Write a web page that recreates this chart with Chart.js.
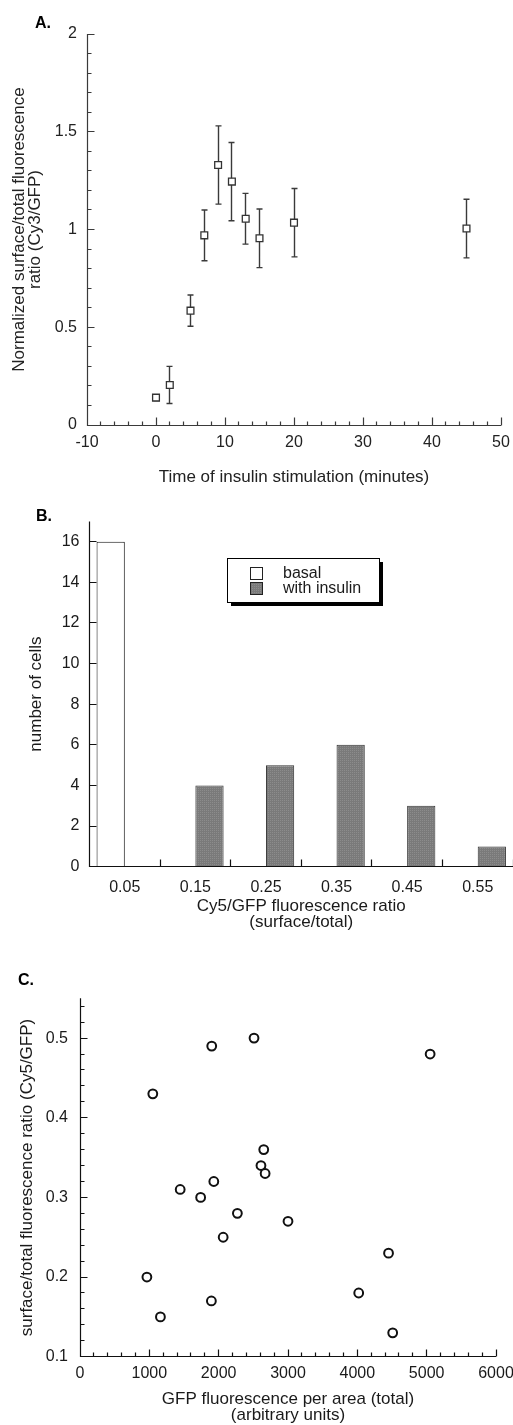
<!DOCTYPE html>
<html>
<head>
<meta charset="utf-8">
<script src="https://cdn.jsdelivr.net/npm/chart.js@4.4.0/dist/chart.umd.min.js"></script>
<style>
  html, body { margin: 0; padding: 0; background: #fff; }
  body { width: 513px; height: 1425px; position: relative; overflow: hidden; }
  canvas { position: absolute; left: 0; }
</style>
</head>
<body>
<canvas id="chartA" width="513" height="490" style="top:0px"></canvas>
<canvas id="chartB" width="513" height="450" style="top:490px"></canvas>
<canvas id="chartC" width="513" height="485" style="top:940px"></canvas>
<script>
// Painel A - curso temporal
const timeMin = [0, 2, 5, 7, 9, 11, 13, 15, 20, 45]
const ratioA = [0.14, 0.205, 0.585, 0.97, 1.33, 1.245, 1.055, 0.955, 1.035, 1.005]
const errA = [0.015, 0.095, 0.08, 0.13, 0.2, 0.2, 0.13, 0.15, 0.175, 0.15]
const xTicksA = [-10, 0, 10, 20, 30, 40, 50]
const yTicksA = [0, 0.5, 1, 1.5, 2]

// Painel B - histograma
const binLabels = ['0.05', '0.15', '0.25', '0.35', '0.45', '0.55']
const basalCells = [16, null, null, null, null, null]
const insulinCells = [null, 4, 5, 6, 3, 1]
const yTicksB = [0, 2, 4, 6, 8, 10, 12, 14, 16]

// Painel C - dispersão
const gfpTotal = [1050, 1900, 2510, 5050, 2650, 2610, 2670, 1930, 1445, 1740, 2270, 3000, 2065, 4450, 965, 4020, 1895, 1160, 4510]
const surfRatio = [0.43, 0.49, 0.50, 0.48, 0.36, 0.34, 0.33, 0.32, 0.31, 0.30, 0.28, 0.27, 0.25, 0.23, 0.20, 0.18, 0.17, 0.15, 0.13]
const xTicksC = [0, 1000, 2000, 3000, 4000, 5000, 6000]
const yTicksC = [0.1, 0.2, 0.3, 0.4, 0.5]

const FONT = '"Liberation Sans", Arial, Helvetica, sans-serif'
Chart.defaults.font.family = FONT
Chart.defaults.font.size = 16
Chart.defaults.color = '#1a1a1a'
Chart.defaults.animation = false
Chart.defaults.events = []
Chart.defaults.plugins.legend.display = false
Chart.defaults.plugins.tooltip.enabled = false

function minorTicks(min, max, step, majors) {
  const out = []
  const n = Math.round((max - min) / step)
  for (let i = 0; i <= n; i++) {
    const v = min + i * step
    if (!majors.some(m => Math.abs(m - v) < step / 10)) out.push(v)
  }
  return out
}

function setTicks(list) {
  return s => { s.ticks = list.map(v => ({ value: v })) }
}

const crisp = v => Math.round(v - 0.5) + 0.5

// eixos com marcas para dentro
const axisPlugin = {
  id: 'axisMarks',
  afterDraw(chart, args, o) {
    const ctx = chart.ctx
    const { left, right, top, bottom } = chart.chartArea
    const xs = chart.scales.x, ys = chart.scales.y
    const L = crisp(left), B = crisp(bottom)
    ctx.save()
    ctx.strokeStyle = o.color
    ctx.lineWidth = o.width
    ctx.beginPath()
    ctx.moveTo(L, top)
    ctx.lineTo(L, B)
    ctx.lineTo(right, B)
    const mark = (list, len, horiz) => list.forEach(v => {
      if (horiz) {
        const p = crisp(xs.getPixelForValue(v))
        ctx.moveTo(p, B); ctx.lineTo(p, B - len)
      } else {
        const p = crisp(ys.getPixelForValue(v))
        ctx.moveTo(L, p); ctx.lineTo(L + len, p)
      }
    })
    mark(o.xMajor, o.xMajorLen, true)
    mark(o.xMinor || [], o.xMinorLen, true)
    mark(o.yMajor, o.yMajorLen, false)
    mark(o.yMinor || [], o.yMinorLen, false)
    ctx.stroke()
    ctx.fillStyle = '#000'
    ctx.font = 'bold 16px ' + FONT
    ctx.textBaseline = 'alphabetic'
    ctx.fillText(o.letter, o.letterX, o.letterY)
    ctx.restore()
  }
}

const errorBars = {
  id: 'errorBars',
  beforeDatasetsDraw(chart, args, o) {
    if (!o.errors) return
    const ctx = chart.ctx
    const xs = chart.scales.x, ys = chart.scales.y
    ctx.save()
    ctx.strokeStyle = '#3a3a3a'
    ctx.lineWidth = 1.4
    ctx.beginPath()
    o.errors.forEach((e, i) => {
      const x = crisp(xs.getPixelForValue(timeMin[i]))
      const y1 = ys.getPixelForValue(ratioA[i] + e)
      const y2 = ys.getPixelForValue(ratioA[i] - e)
      ctx.moveTo(x, y1); ctx.lineTo(x, y2)
      ctx.moveTo(x - 3, y1); ctx.lineTo(x + 3, y1)
      ctx.moveTo(x - 3, y2); ctx.lineTo(x + 3, y2)
    })
    ctx.stroke()
    ctx.restore()
  }
}

function stipple() {
  const c = document.createElement('canvas')
  c.width = 2; c.height = 2
  const g = c.getContext('2d')
  g.fillStyle = '#7a7a7a'; g.fillRect(0, 0, 2, 2)
  g.fillStyle = '#8c8c8c'; g.fillRect(0, 0, 1, 1)
  return g.createPattern(c, 'repeat')
}
const grayFill = stipple()

const boxLegend = {
  id: 'boxLegend',
  afterDraw(chart, args, o) {
    if (!o.display) return
    const ctx = chart.ctx
    const { x, y, w, h } = o
    ctx.save()
    ctx.fillStyle = '#000'
    ctx.fillRect(x + 4, y + 4, w, h)
    ctx.fillStyle = '#fff'
    ctx.fillRect(x, y, w, h)
    ctx.strokeStyle = '#000'
    ctx.lineWidth = 1
    ctx.strokeRect(x + 0.5, y + 0.5, w, h)
    ctx.font = '16px ' + FONT
    ctx.textBaseline = 'alphabetic'
    chart.data.datasets.forEach((ds, i) => {
      const sy = y + 9 + i * 15
      ctx.fillStyle = ds.backgroundColor
      ctx.fillRect(x + 23, sy, 13, 13)
      ctx.strokeStyle = '#222'
      ctx.strokeRect(x + 23.5, sy + 0.5, 12, 12)
      ctx.fillStyle = '#1a1a1a'
      ctx.fillText(ds.label, x + 56, sy + 10.5)
    })
    ctx.restore()
  }
}

Chart.register(axisPlugin, errorBars, boxLegend)

// Gráfico A
new Chart(document.getElementById('chartA'), {
  type: 'scatter',
  data: {
    datasets: [{
      data: timeMin.map((t, i) => ({ x: t, y: ratioA[i] })),
      pointStyle: 'rect',
      pointRadius: 4.8,
      borderWidth: 1.3,
      borderColor: '#333',
      backgroundColor: '#fff',
    }]
  },
  options: {
    responsive: false,
    layout: { padding: { top: 34, right: 12, left: 0, bottom: 0 } },
    plugins: {
      errorBars: { errors: errA },
      axisMarks: {
        color: '#3a3a3a', width: 1.2, letter: 'A.', letterX: 35, letterY: 28,
        xMajor: xTicksA, xMinor: minorTicks(-10, 50, 2, xTicksA), xMajorLen: 8, xMinorLen: 4,
        yMajor: yTicksA, yMinor: minorTicks(0, 2, 0.1, yTicksA), yMajorLen: 7, yMinorLen: 4,
      }
    },
    scales: {
      x: {
        type: 'linear', min: -10, max: 50,
        afterBuildTicks: setTicks(xTicksA),
        ticks: { padding: 8, color: '#222', callback: v => String(v) },
        grid: { display: false, drawTicks: false },
        border: { display: false },
        title: { display: true, text: 'Time of insulin stimulation (minutes)', color: '#222',
          font: { size: 17, lineHeight: 16 / 17 }, padding: { top: 0, bottom: 5 } },
        afterFit: s => { s.height = 65; s.paddingLeft = 0; s.paddingRight = 0 }
      },
      y: {
        min: 0, max: 2,
        afterBuildTicks: setTicks(yTicksA),
        ticks: { padding: 10, color: '#222', callback: v => String(v) },
        grid: { display: false, drawTicks: false },
        border: { display: false },
        title: { display: true, text: ['Normalized surface/total fluorescence', 'ratio (Cy3/GFP)'], color: '#222',
          font: { size: 17, lineHeight: 16 / 17 }, padding: { top: 11, bottom: 0 } },
        afterFit: s => { s.width = 87; s.paddingTop = 0; s.paddingBottom = 0 }
      }
    }
  }
})

// Gráfico B
new Chart(document.getElementById('chartB'), {
  type: 'bar',
  data: {
    labels: binLabels,
    datasets: [{
      label: 'basal',
      data: basalCells,
      backgroundColor: '#fff',
      borderColor: '#111',
      borderWidth: 1,
    }, {
      label: 'with insulin',
      data: insulinCells,
      backgroundColor: grayFill,
      borderColor: '#333',
      borderWidth: 1,
    }]
  },
  options: {
    responsive: false,
    layout: { padding: { top: 31.4, right: 0, left: 0, bottom: 0 } },
    datasets: { bar: { barPercentage: 1, categoryPercentage: 0.8 } },
    plugins: {
      boxLegend: { display: true, x: 227, y: 68, w: 152, h: 44 },
      axisMarks: {
        color: '#111', width: 1.2, letter: 'B.', letterX: 36, letterY: 31,
        xMajor: [0.5, 1.5, 2.5, 3.5, 4.5, 5.5], xMajorLen: 7,
        yMajor: yTicksB, yMajorLen: 7,
      }
    },
    scales: {
      x: {
        ticks: { padding: 11 },
        grid: { display: false, drawTicks: false },
        border: { display: false },
        title: { display: true, text: ['Cy5/GFP fluorescence ratio', '(surface/total)'],
          font: { size: 17, lineHeight: 16 / 17 }, padding: { top: 0, bottom: 9.6 } },
        afterFit: s => { s.height = 73.3; s.paddingLeft = 0; s.paddingRight = 0 }
      },
      y: {
        min: 0, max: 17,
        afterBuildTicks: setTicks(yTicksB),
        ticks: { padding: 10 },
        grid: { display: false, drawTicks: false },
        border: { display: false },
        title: { display: true, text: 'number of cells',
          font: { size: 17, lineHeight: 16 / 17 }, padding: { top: 28.5, bottom: 0 } },
        afterFit: s => { s.width = 89.5; s.paddingTop = 0; s.paddingBottom = 0 }
      }
    }
  }
})

// Gráfico C
new Chart(document.getElementById('chartC'), {
  type: 'scatter',
  data: {
    datasets: [{
      data: gfpTotal.map((g, i) => ({ x: g, y: surfRatio[i] })),
      pointStyle: 'circle',
      pointRadius: 4.4,
      borderWidth: 2,
      borderColor: '#111',
      backgroundColor: '#fff',
    }]
  },
  options: {
    responsive: false,
    layout: { padding: { top: 58.3, right: 17, left: 0, bottom: 0 } },
    plugins: {
      axisMarks: {
        color: '#111', width: 1.2, letter: 'C.', letterX: 18, letterY: 45,
        xMajor: xTicksC, xMinor: minorTicks(0, 6000, 200, xTicksC), xMajorLen: 7, xMinorLen: 4,
        yMajor: yTicksC, yMinor: minorTicks(0.1, 0.54, 0.02, yTicksC), yMajorLen: 7, yMinorLen: 4,
      }
    },
    scales: {
      x: {
        type: 'linear', min: 0, max: 6000,
        afterBuildTicks: setTicks(xTicksC),
        ticks: { padding: 7.5, callback: v => String(v) },
        grid: { display: false, drawTicks: false },
        border: { display: false },
        title: { display: true, text: ['GFP fluorescence per area (total)', '(arbitrary units)'],
          font: { size: 17, lineHeight: 16 / 17 }, padding: { top: 0, bottom: 1.9 } },
        afterFit: s => { s.height = 68.3; s.paddingLeft = 0; s.paddingRight = 0 }
      },
      y: {
        min: 0.1, max: 0.55,
        afterBuildTicks: setTicks(yTicksC),
        ticks: { padding: 12, callback: v => String(v) },
        grid: { display: false, drawTicks: false },
        border: { display: false },
        title: { display: true, text: 'surface/total fluorescence ratio (Cy5/GFP)',
          font: { size: 17, lineHeight: 16 / 17 }, padding: { top: 19.4, bottom: 0 } },
        afterFit: s => { s.width = 80; s.paddingTop = 0; s.paddingBottom = 0 }
      }
    }
  }
})
</script>
</body>
</html>
